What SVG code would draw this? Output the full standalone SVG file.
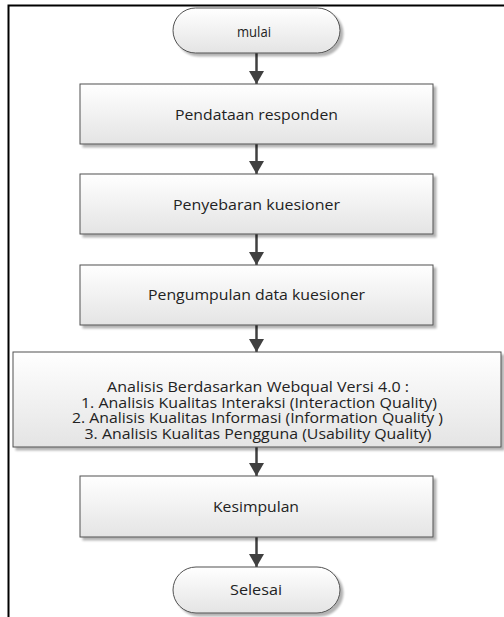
<svg xmlns="http://www.w3.org/2000/svg" width="504" height="617" viewBox="0 0 504 617">
<defs>
<linearGradient id="g" x1="0" y1="0" x2="0" y2="1">
<stop offset="0" stop-color="#ffffff"/>
<stop offset="1" stop-color="#e4e4e4"/>
</linearGradient>
<filter id="sh" x="-5%" y="-5%" width="115%" height="125%">
<feGaussianBlur in="SourceAlpha" stdDeviation="1"/>
<feOffset dx="2.5" dy="2.5" result="o"/>
<feComponentTransfer><feFuncA type="linear" slope="0.3"/></feComponentTransfer>
<feMerge><feMergeNode/><feMergeNode in="SourceGraphic"/></feMerge>
</filter>
<marker id="ah" markerUnits="userSpaceOnUse" markerWidth="16" markerHeight="16" refX="13" refY="7.5" orient="auto">
<path d="M0,0 L13,7.5 L0,15 Z" fill="#404040"/>
</marker>
</defs>
<style>
.box{fill:url(#g);stroke:#505050;stroke-width:1;filter:url(#sh)}
.t{font-family:"Open Sans","Liberation Sans",sans-serif;font-size:14px;fill:#222;text-anchor:middle}
.c{stroke:#404040;stroke-width:2.5;fill:none;marker-end:url(#ah)}
.frame{stroke:#000;stroke-width:2;fill:none}
</style>
<g id="frame">
<path class="frame" d="M504,5.5 H8.5 V617"/>
</g>
<g id="connectors">
<line class="c" x1="256.5" y1="53" x2="256.5" y2="84"/>
<line class="c" x1="256.5" y1="144" x2="256.5" y2="174"/>
<line class="c" x1="256.5" y1="234" x2="256.5" y2="265"/>
<line class="c" x1="256.5" y1="325" x2="256.5" y2="352"/>
<line class="c" x1="256.5" y1="447" x2="256.5" y2="476"/>
<line class="c" x1="256.5" y1="537" x2="256.5" y2="567"/>
</g>
<g id="mulai">
<rect class="box" x="173" y="8" width="167" height="45" rx="22.5" ry="22.5"/>
<text class="t" x="254" y="36.5" textLength="34" lengthAdjust="spacingAndGlyphs">mulai</text>
</g>
<g id="pendataan">
<rect class="box" x="80" y="84" width="353" height="60"/>
<text class="t" x="256.5" y="120" textLength="163" lengthAdjust="spacingAndGlyphs">Pendataan responden</text>
</g>
<g id="penyebaran">
<rect class="box" x="80" y="174" width="353" height="60"/>
<text class="t" x="256.5" y="209.5" textLength="167" lengthAdjust="spacingAndGlyphs">Penyebaran kuesioner</text>
</g>
<g id="pengumpulan">
<rect class="box" x="80" y="265" width="353" height="60"/>
<text class="t" x="256.5" y="300" textLength="217" lengthAdjust="spacingAndGlyphs">Pengumpulan data kuesioner</text>
</g>
<g id="analisis">
<rect class="box" x="13" y="352" width="488" height="95"/>
<text class="t" x="258" y="392" textLength="302" lengthAdjust="spacingAndGlyphs">Analisis Berdasarkan Webqual Versi 4.0 :</text>
<text class="t" x="259" y="407.7" textLength="356" lengthAdjust="spacingAndGlyphs">1. Analisis Kualitas Interaksi (Interaction Quality)</text>
<text class="t" x="257.5" y="423.4" textLength="371" lengthAdjust="spacingAndGlyphs">2. Analisis Kualitas Informasi (Information Quality )</text>
<text class="t" x="258" y="439" textLength="347" lengthAdjust="spacingAndGlyphs">3. Analisis Kualitas Pengguna (Usability Quality)</text>
</g>
<g id="kesimpulan">
<rect class="box" x="80" y="476" width="353" height="61"/>
<text class="t" x="256" y="512" textLength="86" lengthAdjust="spacingAndGlyphs">Kesimpulan</text>
</g>
<g id="selesai">
<rect class="box" x="173" y="567" width="167" height="46" rx="23" ry="23"/>
<text class="t" x="256" y="594.5" textLength="52" lengthAdjust="spacingAndGlyphs">Selesai</text>
</g>
</svg>
